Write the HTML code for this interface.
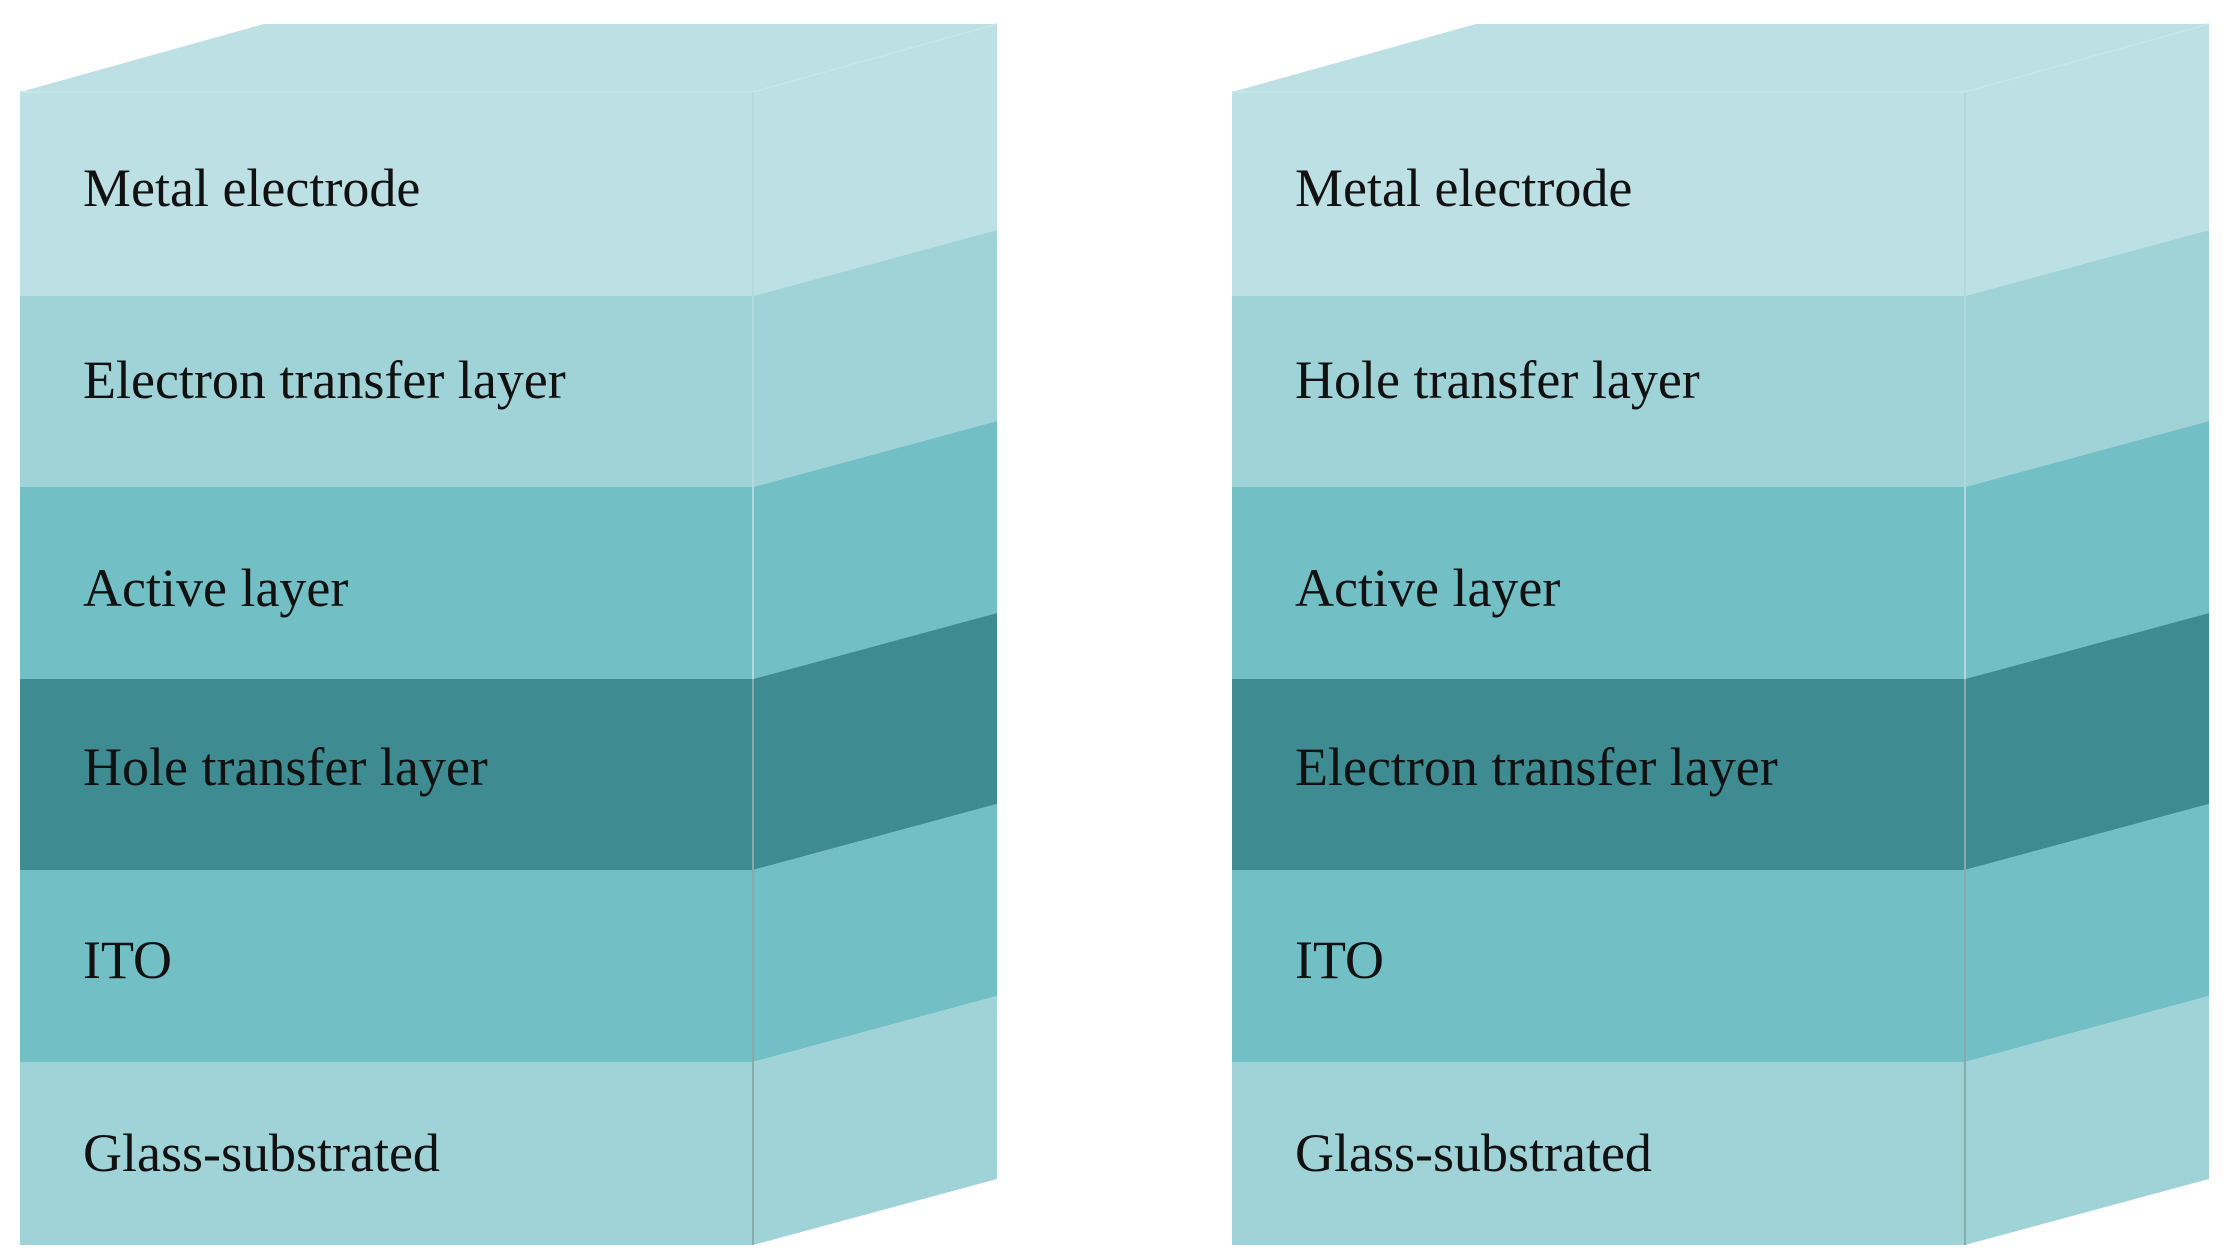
<!DOCTYPE html>
<html><head><meta charset="utf-8"><style>
html,body{margin:0;padding:0;background:#fff;}
svg{display:block;}
text{font-family:"Liberation Serif",serif;font-size:54px;fill:#111;}
</style></head><body>
<svg width="2229" height="1260" viewBox="0 0 2229 1260" xmlns="http://www.w3.org/2000/svg">
<g id="L">
<polygon points="20,92 264,24 997,24 753,92" fill="#bce0e3"/>
<polygon points="20,92 753,92 753,296 20,296" fill="#bce0e3"/>
<polygon points="753,92 997,24 997,230 753,296" fill="#bce0e3"/>
<polygon points="20,296 753,296 753,487 20,487" fill="#a0d3d8"/>
<polygon points="753,296 997,230 997,421 753,487" fill="#a0d3d8"/>
<polygon points="20,487 753,487 753,679 20,679" fill="#72bfc5"/>
<polygon points="753,487 997,421 997,613 753,679" fill="#72bfc5"/>
<polygon points="20,679 753,679 753,870 20,870" fill="#3e8b91"/>
<polygon points="753,679 997,613 997,804 753,870" fill="#3e8b91"/>
<polygon points="20,870 753,870 753,1062 20,1062" fill="#72bfc5"/>
<polygon points="753,870 997,804 997,996 753,1062" fill="#72bfc5"/>
<polygon points="20,1062 753,1062 753,1245 20,1245" fill="#a0d3d8"/>
<polygon points="753,1062 997,996 997,1179 753,1245" fill="#a0d3d8"/>
<polyline points="20,92 753,92 997,24" fill="none" stroke="#c6e6e8" stroke-width="2"/>
<line x1="753" y1="92" x2="753" y2="679" stroke="#b2dadd" stroke-width="2"/>
<line x1="753" y1="679" x2="753" y2="1245" stroke="#8aa" stroke-width="2"/>
</g>
<use href="#L" x="1212"/>
<text x="83" y="206">Metal electrode</text>
<text x="83" y="398">Electron transfer layer</text>
<text x="83" y="606">Active layer</text>
<text x="83" y="785">Hole transfer layer</text>
<text x="83" y="978">ITO</text>
<text x="83" y="1171">Glass-substrated</text>
<text x="1295" y="206">Metal electrode</text>
<text x="1295" y="398">Hole transfer layer</text>
<text x="1295" y="606">Active layer</text>
<text x="1295" y="785">Electron transfer layer</text>
<text x="1295" y="978">ITO</text>
<text x="1295" y="1171">Glass-substrated</text>
</svg>
</body></html>
